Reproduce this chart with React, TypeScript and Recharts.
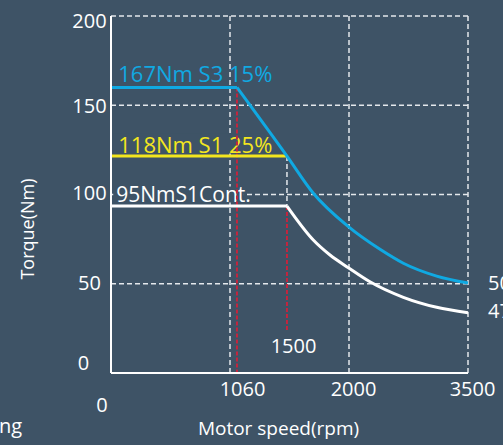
import { CartesianGrid, Line, LineChart, ReferenceArea, ReferenceLine, XAxis, YAxis } from 'recharts';

// axis gridlines sit at equal spacing, not linear in rpm
const SPEED_TICKS = [0, 1060, 2000, 3500];
const TORQUE_TICKS = [0, 50, 100, 150, 200];

// S3 15% (blue)
const s3Speed = [0, 1115, 1510, 1718, 1995, 2391, 2685, 3105, 3500];
const s3Torque = [160, 160, 121.5, 100.7, 82, 69.3, 61.5, 54.3, 50.4];

// S1 25% (yellow)
const s1Speed = [0, 1510];
const s1Torque = [121.5, 121.5];

// S1 continuous (white)
const contSpeed = [0, 1510, 1718, 1850, 1995, 2264, 2685, 3105, 3500];
const contTorque = [93.5, 93.5, 74.5, 66.1, 59, 51.1, 42.4, 36.8, 33.8];

const BG = '#3e5366';
const BLUE = '#10a9e2';
const YELLOW = '#f3e61e';
const RED = '#c3253e';
const FONT = '"Open Sans", sans-serif';

// piecewise-linear position of an rpm value on the equally spaced speed axis
function speedToPos(rpm: number) {
  for (let i = 1; i < SPEED_TICKS.length; i++) {
    const a = SPEED_TICKS[i - 1];
    const b = SPEED_TICKS[i];
    if (rpm <= b || i === SPEED_TICKS.length - 1) {
      return i - 1 + (rpm - a) / (b - a);
    }
  }
  return 0;
}

function toPoints(speed: number[], torque: number[]) {
  return speed.map((s, i) => ({ pos: speedToPos(s), torque: torque[i] }));
}

const s3Flat = toPoints(s3Speed.slice(0, 2), s3Torque.slice(0, 2));
const s3Curve = toPoints(s3Speed.slice(1), s3Torque.slice(1));
const s1Line = toPoints(s1Speed, s1Torque);
const contFlat = toPoints(contSpeed.slice(0, 2), contTorque.slice(0, 2));
const contCurve = toPoints(contSpeed.slice(1), contTorque.slice(1));

const xTickShift = [
  { dx: -9, dy: 31 },
  { dx: 12.5, dy: 15.5 },
  { dx: 4.5, dy: 15.5 },
  { dx: 4.5, dy: 15.5 },
];
const yTickShift: Record<number, { x: number; dy: number }> = {
  0: { x: 83.5, dy: -10.3 },
  50: { x: 89.5, dy: -1.3 },
  100: { x: 89.5, dy: -2.3 },
  150: { x: 89.5, dy: 0 },
  200: { x: 89.5, dy: 4 },
};

function SpeedTick({ x, payload }: any) {
  const i = Math.round(payload.value);
  const s = xTickShift[i];
  return (
    <text x={x + s.dx} y={373 + s.dy} textAnchor="middle" dominantBaseline="central" fill="#fff" fontSize={20} fontFamily={FONT}>
      {SPEED_TICKS[i]}
    </text>
  );
}

function TorqueTick({ y, payload }: any) {
  const s = yTickShift[payload.value];
  return (
    <text x={s.x} y={y + s.dy} textAnchor="middle" dominantBaseline="central" fill="#fff" fontSize={20} fontFamily={FONT}>
      {payload.value}
    </text>
  );
}

// series caption sitting on the bottom edge of its reference area
function caption(text: string, color: string, dx: number, size: number) {
  return (props: any) => {
    const vb = props.viewBox;
    return (
      <text x={vb.x + dx} y={vb.y + vb.height - 0.5} fill={color} fontSize={size} fontFamily={FONT}>
        {text}
      </text>
    );
  };
}

export default function App() {
  const corner1 = speedToPos(1115);
  const corner2 = speedToPos(1510);
  const start = speedToPos(20);
  return (
    <div style={{ position: 'absolute', left: 0, top: 0, width: 503, height: 445, background: BG, overflow: 'hidden' }}>
      <LineChart width={503} height={445} margin={{ top: 16, right: 35, left: 0, bottom: 0 }}>
        <CartesianGrid stroke="#e4e8ec" strokeDasharray="5 3" strokeWidth={1.5} />
        <XAxis
          type="number"
          dataKey="pos"
          domain={[0, 3]}
          ticks={[0, 1, 2, 3]}
          interval={0}
          height={72}
          tickLine={false}
          axisLine={{ stroke: '#fff', strokeWidth: 2 }}
          tick={<SpeedTick />}
        />
        <YAxis
          type="number"
          domain={[0, 200]}
          ticks={TORQUE_TICKS}
          interval={0}
          width={111}
          tickLine={false}
          axisLine={{ stroke: '#fff', strokeWidth: 2 }}
          tick={<TorqueTick />}
        />
        <ReferenceArea x1={start} x2={speedToPos(1300)} y1={162.5} y2={171.5} fill={BG} fillOpacity={0} stroke="none" label={caption('167Nm S3 15%', BLUE, 5, 22)} />
        <ReferenceArea x1={start} x2={speedToPos(1330)} y1={123} y2={134} fill={BG} fillOpacity={1} stroke="none" label={caption('118Nm S1 25%', YELLOW, 5, 22)} />
        <ReferenceArea x1={start} x2={speedToPos(1170)} y1={95.5} y2={104.5} fill={BG} fillOpacity={1} stroke="none" label={caption('95NmS1Cont.', '#fff', 3, 21)} />

        <ReferenceLine segment={[{ x: corner1, y: 160 }, { x: corner1, y: 0 }]} stroke={RED} strokeWidth={2} strokeDasharray="4 2" />
        <ReferenceLine segment={[{ x: corner2, y: 93.5 }, { x: corner2, y: 23 }]} stroke={RED} strokeWidth={2} strokeDasharray="4 2" />
        <ReferenceLine segment={[{ x: corner2, y: 121.5 }, { x: corner2, y: 93.5 }]} stroke="#e4e8ec" strokeWidth={1.5} strokeDasharray="5 3" />

        <Line data={s1Line} dataKey="torque" type="linear" stroke={YELLOW} strokeWidth={3} dot={false} isAnimationActive={false} />
        <Line data={contFlat} dataKey="torque" type="linear" stroke="#fff" strokeWidth={3} dot={false} isAnimationActive={false} />
        <Line data={contCurve} dataKey="torque" type="monotone" stroke="#fff" strokeWidth={3} dot={false} isAnimationActive={false} />
        <Line data={s3Flat} dataKey="torque" type="linear" stroke={BLUE} strokeWidth={3} dot={false} isAnimationActive={false} />
        <Line data={s3Curve} dataKey="torque" type="monotone" stroke={BLUE} strokeWidth={3} dot={false} isAnimationActive={false} />

        <text x={293.5} y={345} fill="#fff" fontSize={20} fontFamily={FONT} textAnchor="middle" dominantBaseline="central">1500</text>
        <text x={488} y={282} fill="#fff" fontSize={20} fontFamily={FONT} dominantBaseline="central">50</text>
        <text x={488} y={310} fill="#fff" fontSize={20} fontFamily={FONT} dominantBaseline="central">47</text>
        <text x={27} y={229} fill="#fff" fontSize={18} fontFamily={FONT} textAnchor="middle" dominantBaseline="central" transform="rotate(-90 27 229)">Torque(Nm)</text>
        <text x={278.5} y={428} fill="#fff" fontSize={19} fontFamily={FONT} textAnchor="middle" dominantBaseline="central">Motor speed(rpm)</text>
        <text x={-1} y={433} fill="#fff" fontSize={20} fontFamily={FONT}>ng</text>
      </LineChart>
    </div>
  );
}
